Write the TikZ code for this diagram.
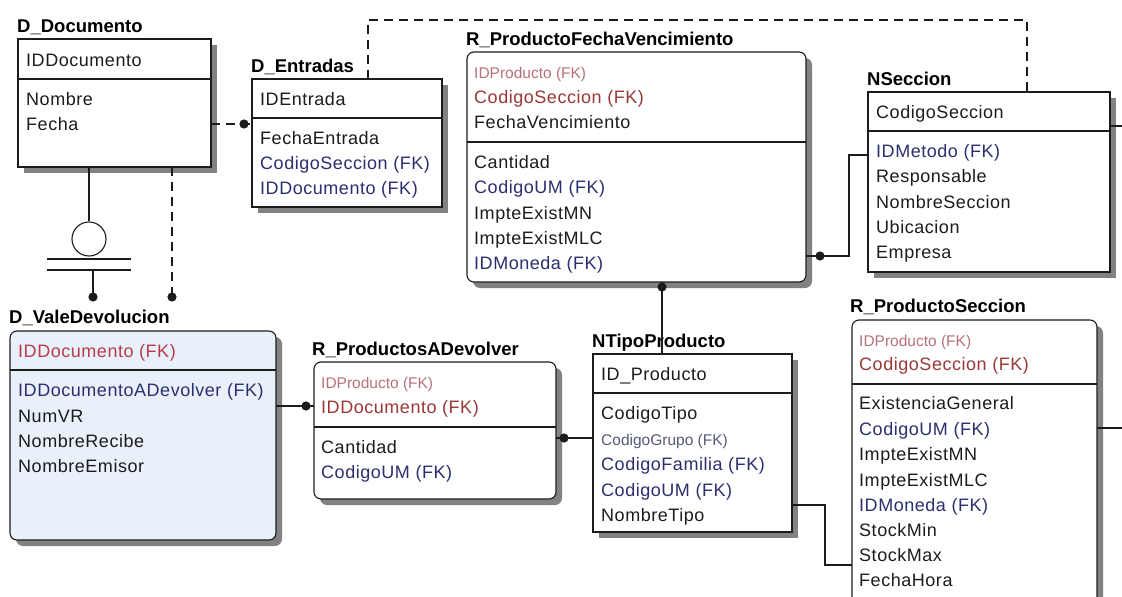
\documentclass[tikz,border=0pt]{standalone}
\usepackage{fontspec}
\setmainfont{Liberation Sans}
\newfontfamily\attrfamily[LetterSpace=3]{Liberation Sans}
\usetikzlibrary{shadows}

\definecolor{ink}{HTML}{1C1C1C}
\definecolor{fkred}{HTML}{9A3838}
\definecolor{fkpale}{HTML}{B8707A}
\definecolor{valered}{HTML}{B83C4A}
\definecolor{fkblue}{HTML}{2B2F6E}
\definecolor{grpgray}{HTML}{555A7A}
\definecolor{shadowgray}{HTML}{828282}
\definecolor{valefill}{HTML}{E8F0FA}

\tikzset{
  ent/.style={draw=ink, line width=1.1pt, fill=white, anchor=north west,
    inner sep=0pt, outer sep=0pt,
    general shadow={fill=shadowgray, shadow xshift=6pt, shadow yshift=-6pt}},
  rent/.style={ent, rounded corners=7pt},
  divline/.style={draw=ink, line width=1.1pt},
  link/.style={draw=ink, line width=1.1pt},
  dlink/.style={link, dash pattern=on 9pt off 6pt},
  ttl/.style={anchor=base west, inner sep=0pt, text=black,
    font=\bfseries\fontsize{18.5}{20}\selectfont},
  att/.style={anchor=base west, inner sep=0pt, text=ink,
    font=\attrfamily\fontsize{18}{20}\selectfont},
  fkr/.style={att, text=fkred},
  fkb/.style={att, text=fkblue},
  fkv/.style={att, text=valered},
  sml/.style={anchor=base west, inner sep=0pt, text=fkpale,
    font=\fontsize{15.5}{17}\selectfont},
  smg/.style={sml, text=grpgray},
}

\newcommand\relpoint[1]{\fill[ink] (#1) circle (4.6pt);}

\begin{document}
\begin{tikzpicture}[x=1pt, y=-1pt]
\useasboundingbox (0,0) rectangle (1122,597);
\fill[white] (0,0) rectangle (1122,597);
\clip (0,0) rectangle (1122,597);

% ---------- D_Documento ----------
\node[ttl] (ddocT) at (17,32) {D\_Documento};
\node[ent, minimum width=193pt, minimum height=128pt] (ddoc) at (18,39) {};
\draw[divline] ([yshift=-40pt]ddoc.north west) -- ([yshift=-40pt]ddoc.north east);
\node[att] (ddoc1) at (26,66) {IDDocumento};
\node[att] (ddoc2) at (26,105) {Nombre};
\node[att] (ddoc3) at (26,130) {Fecha};

% ---------- D_Entradas ----------
\node[ttl] (dentT) at (251,72) {D\_Entradas};
\node[ent, minimum width=190pt, minimum height=128pt] (dent) at (252,79) {};
\draw[divline] ([yshift=-39pt]dent.north west) -- ([yshift=-39pt]dent.north east);
\node[att] (dent1) at (260,105) {IDEntrada};
\node[att] (dent2) at (260,144) {FechaEntrada};
\node[fkb] (dent3) at (260,169) {CodigoSeccion (FK)};
\node[fkb] (dent4) at (260,194) {IDDocumento (FK)};

% ---------- R_ProductoFechaVencimiento ----------
\node[ttl] (rpfvT) at (466,45) {R\_ProductoFechaVencimiento};
\node[rent, minimum width=339pt, minimum height=230pt] (rpfv) at (467,52) {};
\draw[divline] ([yshift=-90pt]rpfv.north west) -- ([yshift=-90pt]rpfv.north east);
\node[sml] (rpfv1) at (474,78) {IDProducto (FK)};
\node[fkr] (rpfv2) at (474,103) {CodigoSeccion (FK)};
\node[att] (rpfv3) at (474,128) {FechaVencimiento};
\node[att] (rpfv4) at (474,168) {Cantidad};
\node[fkb] (rpfv5) at (474,193) {CodigoUM (FK)};
\node[att] (rpfv6) at (474,219) {ImpteExistMN};
\node[att] (rpfv7) at (474,244) {ImpteExistMLC};
\node[fkb] (rpfv8) at (474,269) {IDMoneda (FK)};

% ---------- NSeccion ----------
\node[ttl] (nsecT) at (867,85) {NSeccion};
\node[ent, minimum width=242pt, minimum height=180pt] (nsec) at (868,92) {};
\draw[divline] ([yshift=-39pt]nsec.north west) -- ([yshift=-39pt]nsec.north east);
\node[att] (nsec1) at (876,118) {CodigoSeccion};
\node[fkb] (nsec2) at (876,157) {IDMetodo (FK)};
\node[att] (nsec3) at (876,182) {Responsable};
\node[att] (nsec4) at (876,208) {NombreSeccion};
\node[att] (nsec5) at (876,233) {Ubicacion};
\node[att] (nsec6) at (876,258) {Empresa};

% ---------- D_ValeDevolucion ----------
\node[ttl] (valeT) at (9,323) {D\_ValeDevolucion};
\node[rent, fill=valefill, minimum width=266pt, minimum height=209pt] (vale) at (10,331) {};
\draw[divline] ([yshift=-39pt]vale.north west) -- ([yshift=-39pt]vale.north east);
\node[fkv] (vale1) at (18,357) {IDDocumento (FK)};
\node[fkb] (vale2) at (18,396) {IDDocumentoADevolver (FK)};
\node[att] (vale3) at (18,422) {NumVR};
\node[att] (vale4) at (18,447) {NombreRecibe};
\node[att] (vale5) at (18,472) {NombreEmisor};

% ---------- R_ProductosADevolver ----------
\node[ttl] (rpadT) at (312,355) {R\_ProductosADevolver};
\node[rent, minimum width=242pt, minimum height=137pt] (rpad) at (314,362) {};
\draw[divline] ([yshift=-65pt]rpad.north west) -- ([yshift=-65pt]rpad.north east);
\node[sml] (rpad1) at (321,388) {IDProducto (FK)};
\node[fkr] (rpad2) at (321,413) {IDDocumento (FK)};
\node[att] (rpad3) at (321,453) {Cantidad};
\node[fkb] (rpad4) at (321,478) {CodigoUM (FK)};

% ---------- NTipoProducto ----------
\node[ttl] (ntpT) at (592,347) {NTipoProducto};
\node[ent, minimum width=199pt, minimum height=178pt] (ntp) at (593,354) {};
\draw[divline] ([yshift=-39pt]ntp.north west) -- ([yshift=-39pt]ntp.north east);
\node[att] (ntp1) at (601,380) {ID\_Producto};
\node[att] (ntp2) at (601,419) {CodigoTipo};
\node[smg] (ntp3) at (601,445) {CodigoGrupo (FK)};
\node[fkb] (ntp4) at (601,470) {CodigoFamilia (FK)};
\node[fkb] (ntp5) at (601,496) {CodigoUM (FK)};
\node[att] (ntp6) at (601,521) {NombreTipo};

% ---------- R_ProductoSeccion ----------
\node[ttl] (rpsT) at (850,312) {R\_ProductoSeccion};
\node[rent, minimum width=245pt, minimum height=290pt] (rps) at (852,320) {};
\draw[divline] ([yshift=-64pt]rps.north west) -- ([yshift=-64pt]rps.north east);
\node[sml] (rps1) at (859,346) {IDProducto (FK)};
\node[fkr] (rps2) at (859,370) {CodigoSeccion (FK)};
\node[att] (rps3) at (859,409) {ExistenciaGeneral};
\node[fkb] (rps4) at (859,435) {CodigoUM (FK)};
\node[att] (rps5) at (859,460) {ImpteExistMN};
\node[att] (rps6) at (859,486) {ImpteExistMLC};
\node[fkb] (rps7) at (859,511) {IDMoneda (FK)};
\node[att] (rps8) at (859,536) {StockMin};
\node[att] (rps9) at (859,561) {StockMax};
\node[att] (rps10) at (859,586) {FechaHora};

% ---------- relationships ----------
% D_Documento -> D_Entradas (non-identifying)
\coordinate (pEnt) at (244,124);
\draw[dlink] ([yshift=-85pt]ddoc.north east) -- ([yshift=-45pt]dent.north west);
\relpoint{pEnt}

% D_Entradas -> NSeccion (non-identifying, routed over the top)
\draw[dlink] ([xshift=116pt]dent.north west) -- ++(0,-59) -| ([xshift=159pt]nsec.north west);

% D_Documento -> D_ValeDevolucion (category symbol)
\node[draw=ink, line width=1.1pt, circle, minimum size=34pt, inner sep=0pt] (cat) at (89,239) {};
\draw[link] (cat.north |- ddoc.south) -- (cat.north);
\draw[link] (47,259) -- (131,259);
\draw[link] (47,270) -- (131,270);
\coordinate (catEnd) at (93,297);
\draw[link] (93,270) -- (catEnd);
\relpoint{catEnd}

% D_Documento -> D_ValeDevolucion (non-identifying)
\coordinate (valeEnd) at (172,297);
\draw[dlink] ([xshift=154pt]ddoc.south west) -- (valeEnd);
\relpoint{valeEnd}

% D_ValeDevolucion -> R_ProductosADevolver
\coordinate (pRpad) at (306,406);
\draw[link] ([yshift=-75pt]vale.north east) -- ([yshift=-44pt]rpad.north west);
\relpoint{pRpad}

% NTipoProducto -> R_ProductosADevolver
\coordinate (pNtp) at (564,438);
\draw[link] ([yshift=-84pt]ntp.north west) -- ([yshift=-76pt]rpad.north east);
\relpoint{pNtp}

% NTipoProducto -> R_ProductoFechaVencimiento
\coordinate (pFv) at (662,287);
\draw[link] ([xshift=69pt]ntp.north west) -- ([xshift=195pt]rpfv.south west);
\relpoint{pFv}

% NSeccion -> R_ProductoFechaVencimiento
\coordinate (pSec) at (820,256);
\draw[link] ([yshift=-63pt]nsec.north west) -- ++(-19,0) |- ([yshift=-204pt]rpfv.north east);
\relpoint{pSec}

% NTipoProducto -> R_ProductoSeccion
\draw[link] ([yshift=-151pt]ntp.north east) -- ++(33,0) |- ([yshift=-245pt]rps.north west);

% links leaving to the right
\coordinate (nsecOut) at (1122,126);
\draw[link] ([yshift=-34pt]nsec.north east) -- (nsecOut);
\coordinate (rpsOut) at (1122,428);
\draw[link] ([yshift=-108pt]rps.north east) -- (rpsOut);
\end{tikzpicture}
\end{document}
